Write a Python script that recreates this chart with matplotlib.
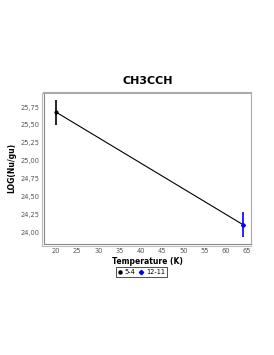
import matplotlib
matplotlib.use("Agg")
import matplotlib.pyplot as plt
from matplotlib.lines import Line2D
from matplotlib.ticker import FuncFormatter, MultipleLocator

# Rotational diagram points
labels = ["5-4", "12-11"]
temps = [20, 64]
logNu = [25.68, 24.11]
errs = [0.175, 0.17]
colors = ["black", "blue"]
markers = ["o", "D"]

fig = plt.figure(figsize=(2.74, 3.55), dpi=100)
ax = fig.add_axes([0.1606, 0.3127, 0.7555, 0.4262])

# fit line through the points
ax.plot(temps, logNu, color="black", lw=0.8, zorder=2)

for t, v, e, c, m in zip(temps, logNu, errs, colors, markers):
    ax.errorbar([t], [v], yerr=[e], fmt=m, color=c, ms=2, elinewidth=1.2,
                capsize=0, zorder=3)

ax.set_xlim(17.2, 65.9)
ax.set_ylim(23.84, 25.95)
ax.xaxis.set_major_locator(MultipleLocator(5))
ax.yaxis.set_major_locator(MultipleLocator(0.25))
ax.yaxis.set_major_formatter(FuncFormatter(lambda v, p: f"{v:.2f}".replace(".", ",")))
ax.tick_params(length=0, labelsize=4.8, colors="#555555", pad=3)

for s in ax.spines.values():
    s.set_color("#aaaaaa")
    s.set_linewidth(0.8)
ax.spines["top"].set_linewidth(1.5)
ax.spines["left"].set_color("#888888")
ax.spines["bottom"].set_color("#888888")
# shadow lines on left/bottom
ax.plot([-0.008, -0.008], [-0.012, 1.0], transform=ax.transAxes, color="#bbbbbb",
        lw=0.8, clip_on=False)
ax.plot([-0.008, 1.0], [-0.012, -0.012], transform=ax.transAxes, color="#bbbbbb",
        lw=0.8, clip_on=False)

ax.set_title("CH3CCH", fontsize=8, fontweight="bold", pad=6)
ax.set_xlabel("Temperature (K)", fontsize=5.5, fontweight="bold", labelpad=2)
ax.set_ylabel("LOG(Nu/gu)", fontsize=5.5, fontweight="bold", labelpad=3)

handles = [Line2D([], [], ls="none", marker=m, color=c, ms=2.2)
           for m, c in zip(markers, colors)]
leg = ax.legend(handles, labels, loc="upper center", bbox_to_anchor=(0.47, -0.13),
                ncol=2, fontsize=4.8, frameon=True, fancybox=False,
                handlelength=0.6, handletextpad=0.4, columnspacing=0.6,
                borderpad=0.3)
leg.get_frame().set_edgecolor("black")
leg.get_frame().set_linewidth(0.6)

fig.savefig("out.png", dpi=100)
